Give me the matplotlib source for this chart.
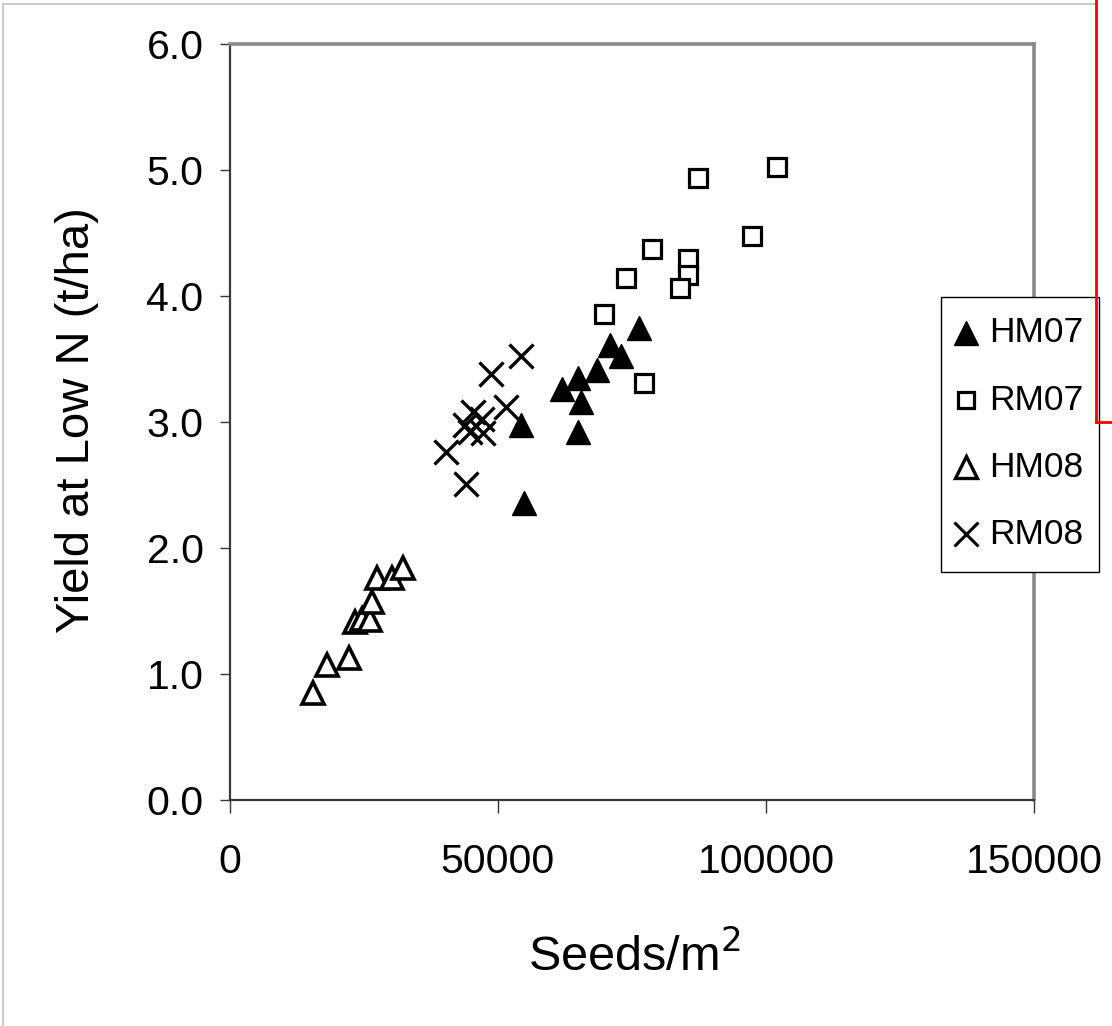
import matplotlib
matplotlib.use("Agg")
import matplotlib.pyplot as plt
from matplotlib.lines import Line2D
from matplotlib.patches import Rectangle

plt.rcParams['font.family'] = ['Liberation Sans', 'DejaVu Sans']

# Data (seeds/m2, yield t/ha)
hm07_x = [54300, 54900, 61900, 64900, 65500, 64900, 68500, 70900, 73000, 76300]
hm07_y = [2.98, 2.36, 3.26, 3.35, 3.16, 2.92, 3.41, 3.61, 3.52, 3.75]

rm07_x = [69800, 77200, 73900, 78700, 87300, 102100, 97400, 85400, 85400, 84000]
rm07_y = [3.86, 3.31, 4.14, 4.37, 4.94, 5.02, 4.48, 4.29, 4.17, 4.06]

hm08_x = [15500, 18100, 22200, 23300, 24600, 26100, 26500, 27400, 30200, 32300]
hm08_y = [0.85, 1.07, 1.13, 1.41, 1.44, 1.43, 1.57, 1.76, 1.76, 1.84]

rm08_x = [40300, 44000, 48700, 54300, 51500, 45300, 43800, 47000, 44800, 47200]
rm08_y = [2.76, 2.51, 3.38, 3.52, 3.12, 3.08, 2.98, 3.02, 2.92, 2.91]

series_labels = ['HM07', 'RM07', 'HM08', 'RM08']
x_ticks = [0, 50000, 100000, 150000]
y_ticks = [0.0, 1.0, 2.0, 3.0, 4.0, 5.0, 6.0]

styles = [
    dict(marker='^', ms=17, mfc='black', mec='black', mew=1),
    dict(marker='s', ms=13, mfc='white', mec='black', mew=2.3),
    dict(marker='^', ms=16, mfc='white', mec='black', mew=2.6),
    dict(marker='x', ms=17, mfc='none', mec='black', mew=2.4),
]
leg_styles = [
    dict(marker='^', ms=17, mfc='black', mec='black', mew=1),
    dict(marker='s', ms=11, mfc='white', mec='black', mew=2.3),
    dict(marker='^', ms=16, mfc='white', mec='black', mew=2.4),
    dict(marker='x', ms=17, mfc='none', mec='black', mew=2.2),
]

W, H = 1112, 1026
fig = plt.figure(figsize=(W / 100, H / 100), dpi=100)
ax = fig.add_axes([230 / W, 1 - 800 / H, (1034 - 230) / W, (800 - 44) / H])

for xs, ys, lab, st in zip([hm07_x, rm07_x, hm08_x, rm08_x], [hm07_y, rm07_y, hm08_y, rm08_y], series_labels, styles):
    ax.plot(xs, ys, linestyle='none', label=lab, clip_on=False, **st)

ax.set_xlim(0, 150000)
ax.set_ylim(0, 6)
ax.set_xticks(x_ticks)
ax.set_xticklabels([str(v) for v in x_ticks], fontsize=29.5)
ax.set_yticks(y_ticks)
ax.set_yticklabels([f"{v:.1f}" for v in y_ticks], fontsize=29.5)
ax.tick_params(axis='x', direction='out', length=9, width=1, pad=22, color='#333333')
ax.tick_params(axis='y', direction='out', length=7, width=1, pad=12, color='#333333')

for s in ['top', 'right']:
    ax.spines[s].set_color('#8a8a8a')
    ax.spines[s].set_linewidth(2.6)
for s in ['left', 'bottom']:
    ax.spines[s].set_color('#3a3a3a')
    ax.spines[s].set_linewidth(1.6)

fig.text(77 / W, 1 - 420 / H, 'Yield at Low N (t/ha)', rotation=90, ha='center', va='center', fontsize=34)
fig.text(634 / W, 1 - 957 / H, 'Seeds/m$^{2}$', ha='center', va='center', fontsize=35)

# legend box (drawn in figure pixel positions)
fig.add_artist(Rectangle((941 / W, 1 - 572 / H), (1099 - 941) / W, (572 - 297) / H,
                         facecolor='white', edgecolor='black', lw=1.0, zorder=5))
for i, (lab, st) in enumerate(zip(series_labels, leg_styles)):
    yy = 1 - (333 + 67 * i) / H
    fig.add_artist(Line2D([966 / W], [yy], linestyle='none', zorder=6, **st))
    fig.text(989 / W, yy, lab, ha='left', va='center', fontsize=25.5, zorder=6)

# outer light border and red box fragments
fig.add_artist(Line2D([4 / W, 1095 / W], [1 - 4 / H, 1 - 4 / H], color='#c0c0c0', lw=1.2))
fig.add_artist(Line2D([3 / W, 3 / W], [1 - 4 / H, 0], color='#c0c0c0', lw=1.2))
fig.add_artist(Line2D([1096 / W, 1096 / W], [1, 1 - 422 / H], color='red', lw=2, zorder=20))
fig.add_artist(Line2D([1096 / W, 1], [1 - 422 / H, 1 - 422 / H], color='red', lw=2, zorder=20))

fig.savefig('out.png', dpi=100)
